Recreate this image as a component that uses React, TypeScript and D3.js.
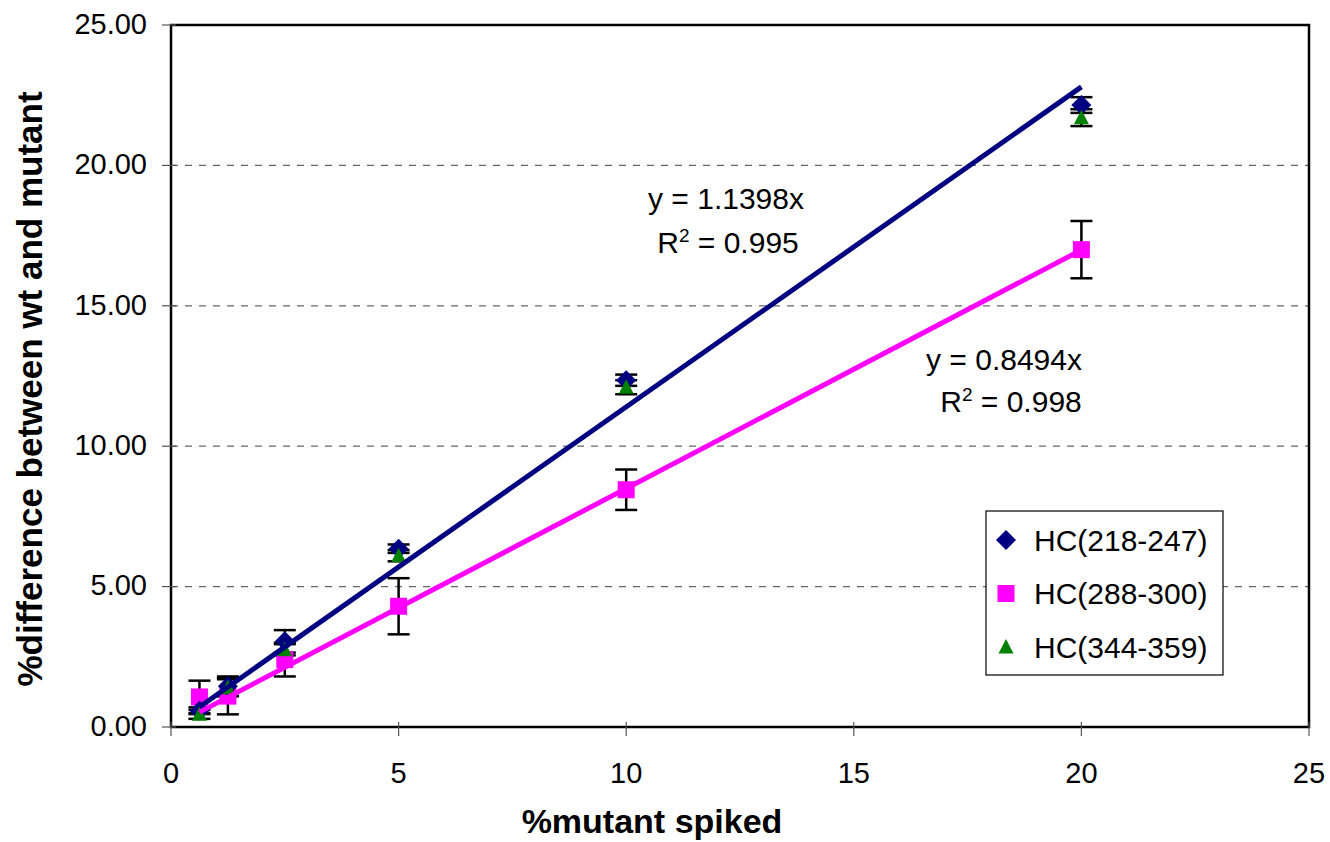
import * as d3 from "d3";

const xs = [0.625, 1.25, 2.5, 5, 10, 20];
const seriesNames = ["HC(218-247)", "HC(288-300)", "HC(344-359)"];
const navyVals = [0.58, 1.45, 3.05, 6.35, 12.35, 22.15];
const navyErr = [0.12, 0.35, 0.4, 0.15, 0.2, 0.28];
const pinkVals = [1.07, 1.1, 2.4, 4.3, 8.45, 17.0];
const pinkErr = [0.58, 0.65, 0.6, 1.0, 0.72, 1.02];
const greenVals = [0.45, 1.4, 2.75, 6.1, 12.1, 21.7];
const greenErr = [0.16, 0.3, 0.2, 0.2, 0.25, 0.3];
const slopes = [1.1398, 0.8494];
const r2 = ["0.995", "0.998"];
const xTicks = [0, 5, 10, 15, 20, 25];
const yTicks = [0, 5, 10, 15, 20, 25];

const W = 1330, H = 842;
const L = 171, R = 1309, T = 25, B = 727;
const font = "Liberation Sans, Arial, sans-serif";

export default function App() {
  const x = d3.scaleLinear().domain([0, 25]).range([L, R]);
  const y = d3.scaleLinear().domain([0, 25]).range([B, T]);
  const colors = ["#000080", "#ff00ff", "#008000"];
  const vals = [navyVals, pinkVals, greenVals];
  const errs = [navyErr, pinkErr, greenErr];

  const marker = (i: number, cx: number, cy: number, key: string) => {
    if (i === 0) {
      const s = 10;
      return <path key={key} d={`M${cx},${cy - s}L${cx + s},${cy}L${cx},${cy + s}L${cx - s},${cy}Z`} fill={colors[0]} />;
    }
    if (i === 1) {
      return <rect key={key} x={cx - 8.5} y={cy - 8.5} width={17} height={17} fill={colors[1]} />;
    }
    return <path key={key} d={`M${cx},${cy - 8}L${cx + 7.5},${cy + 6.5}L${cx - 7.5},${cy + 6.5}Z`} fill={colors[2]} />;
  };

  const line = d3.line<number>().x((d) => x(d)).y((d) => y(d));

  return (
    <svg width={W} height={H} style={{ position: "absolute", left: 0, top: 0, background: "#fff" }}>
      <rect x={0} y={0} width={W} height={H} fill="#fff" />
      {yTicks.filter((t) => t > 0 && t < 25).map((t) => (
        <line key={"g" + t} x1={L} x2={R} y1={y(t)} y2={y(t)} stroke="#666" strokeWidth={1.2} strokeDasharray="7,7" />
      ))}
      <rect x={L} y={T} width={R - L} height={B - T} fill="none" stroke="#000" strokeWidth={2.5} />
      {yTicks.map((t) => (
        <g key={"yt" + t}>
          <line x1={L - 9} x2={L + 5} y1={y(t)} y2={y(t)} stroke="#555" strokeWidth={1.2} />
          <text x={L - 24} y={y(t)} dy="0.3em" textAnchor="end" fontFamily={font} fontSize={29}>{t.toFixed(2)}</text>
        </g>
      ))}
      {xTicks.map((t) => (
        <g key={"xt" + t}>
          <line x1={x(t)} x2={x(t)} y1={B - 5} y2={B + 9} stroke="#555" strokeWidth={1.2} />
          <text x={x(t)} y={B + 56} textAnchor="middle" fontFamily={font} fontSize={29}>{t}</text>
        </g>
      ))}
      {vals.map((vs, i) =>
        vs.map((v, j) => {
          const e = errs[i][j];
          const cx = x(xs[j]);
          return (
            <g key={`e${i}-${j}`} stroke="#000" strokeWidth={2.5}>
              <line x1={cx} x2={cx} y1={y(v + e)} y2={y(v - e)} />
              <line x1={cx - 11} x2={cx + 11} y1={y(v + e)} y2={y(v + e)} />
              <line x1={cx - 11} x2={cx + 11} y1={y(v - e)} y2={y(v - e)} />
            </g>
          );
        })
      )}
      {[1, 0, 2].map((i) => vals[i].map((v, j) => marker(i, x(xs[j]), y(v), `m${i}-${j}`)))}
      {slopes.map((s, i) => (
        <path key={"tl" + i} d={line.y((d) => y(d * s))([xs[0], xs[xs.length - 1]]) || ""} stroke={colors[i]} strokeWidth={5} fill="none" />
      ))}
      <g fontFamily={font} fontSize={30} textAnchor="middle">
        <text x={726} y={209}>{`y = ${slopes[0]}x`}</text>
        <text x={728} y={253}>R<tspan dy={-11} fontSize={19}>2</tspan><tspan dy={11}>{` = ${r2[0]}`}</tspan></text>
        <text x={1004} y={370}>{`y = ${slopes[1]}x`}</text>
        <text x={1011} y={412}>R<tspan dy={-11} fontSize={19}>2</tspan><tspan dy={11}>{` = ${r2[1]}`}</tspan></text>
      </g>
      <rect x={986} y={511} width={237} height={164} fill="#fff" stroke="#000" strokeWidth={1.2} />
      {seriesNames.map((n, i) => (
        <g key={"lg" + i}>
          {marker(i, 1006, 540 + i * 53.5, "lm" + i)}
          <text x={1034} y={540 + i * 53.5} dy="0.36em" fontFamily={font} fontSize={30}>{n}</text>
        </g>
      ))}
      <text x={652} y={833} textAnchor="middle" fontFamily={font} fontSize={34} fontWeight="bold">%mutant spiked</text>
      <text transform={`translate(42,389) rotate(-90)`} textAnchor="middle" fontFamily={font} fontSize={35} fontWeight="bold">%difference between wt and mutant</text>
    </svg>
  );
}
